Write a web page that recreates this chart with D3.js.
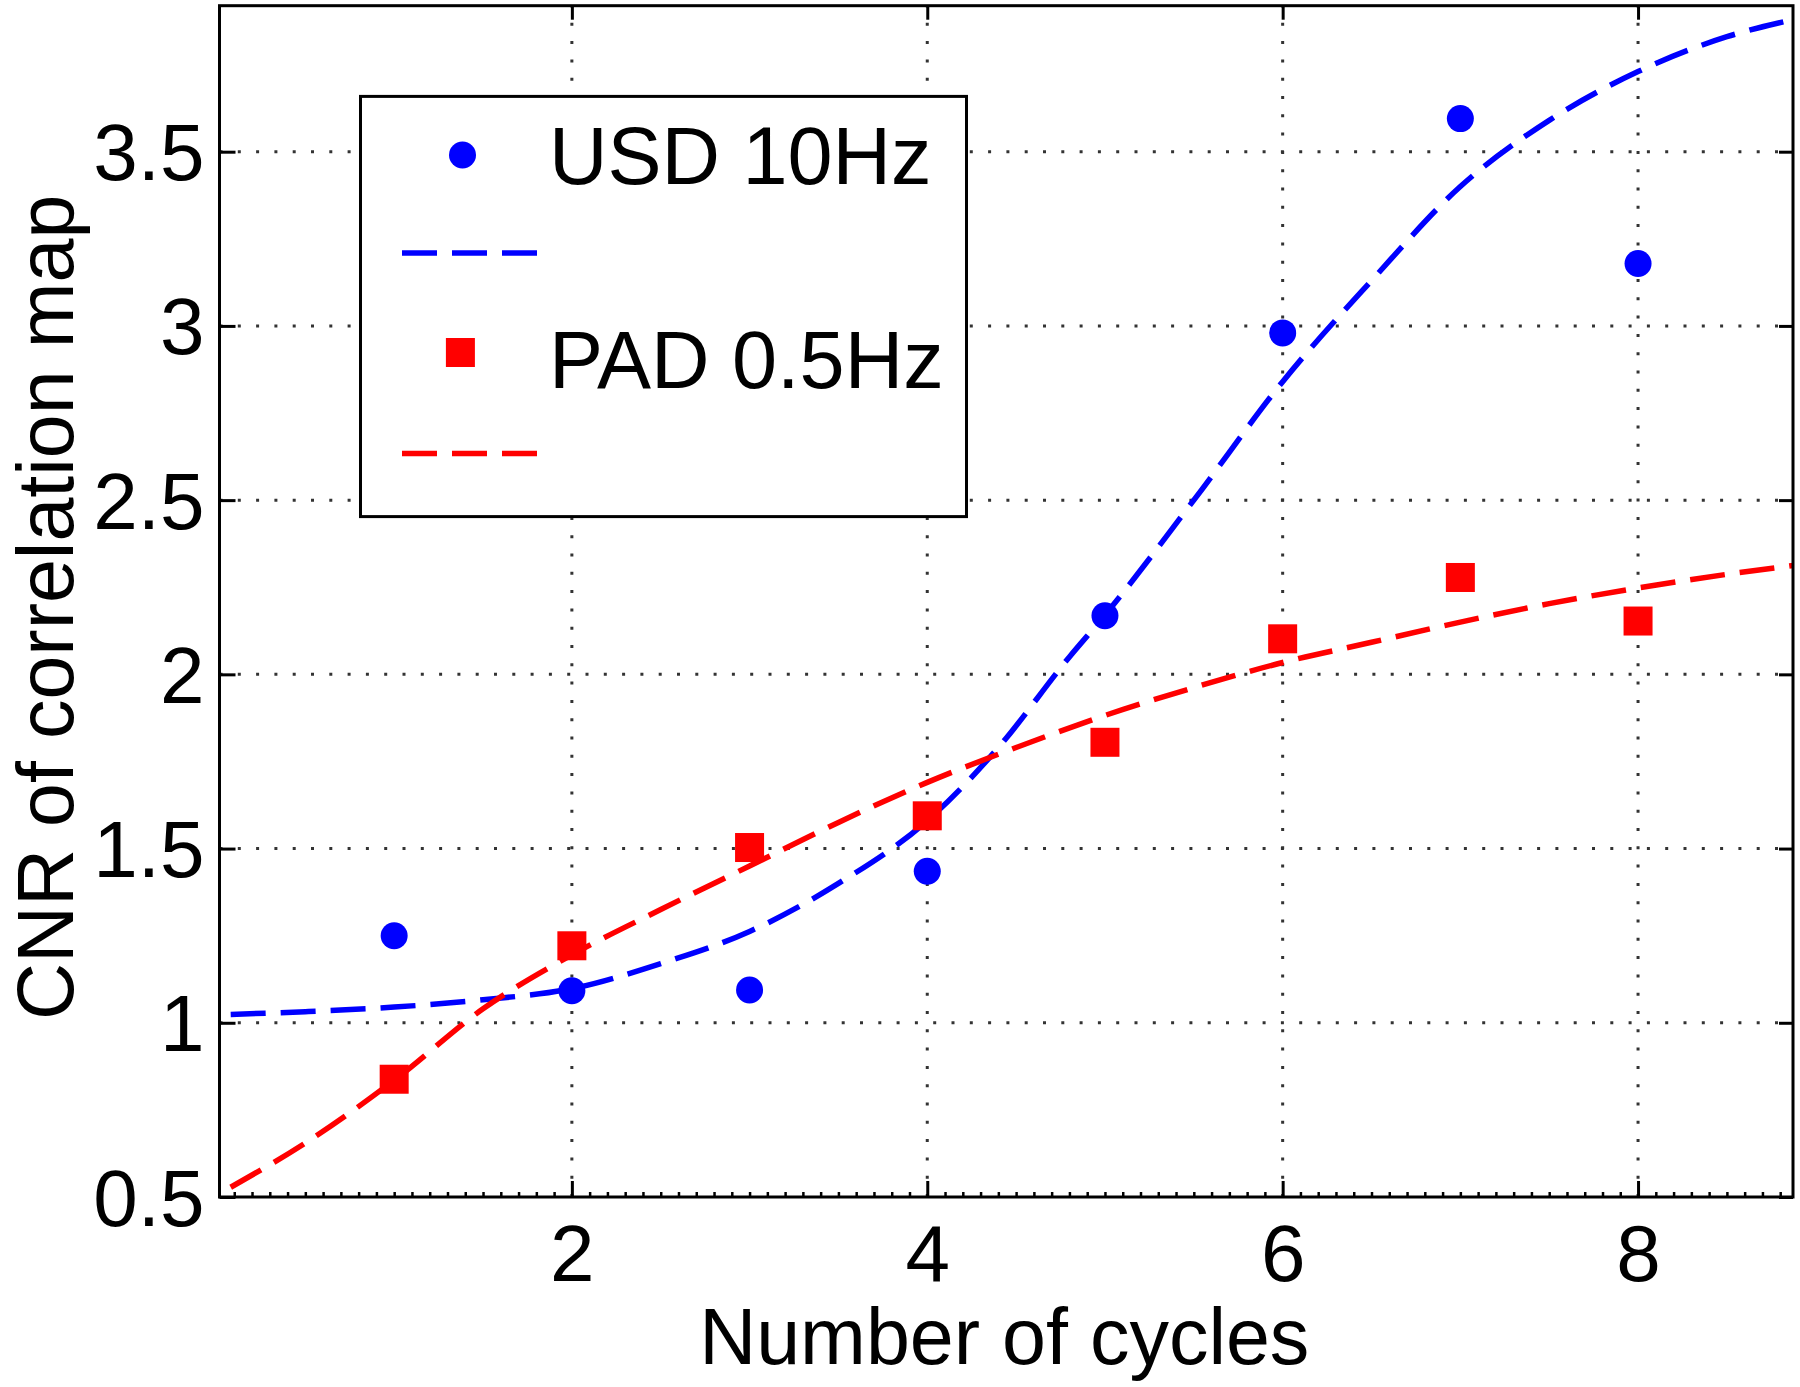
<!DOCTYPE html>
<html>
<head>
<meta charset="utf-8">
<script src="https://cdn.jsdelivr.net/npm/d3@7"></script>
<style>
  html, body { margin: 0; padding: 0; background: #fff; }
  svg { display: block; }
  text { font-family: "Liberation Sans", Arial, Helvetica, sans-serif; fill: #000; }
</style>
</head>
<body>
<svg id="chart" width="1800" height="1387"></svg>
<script>
// ---- data ----
const cycles = [1, 2, 3, 4, 5, 6, 7, 8];
const usdValues = [1.25, 1.092, 1.094, 1.435, 2.168, 2.98, 3.595, 3.179];
const padValues = [0.838, 1.221, 1.503, 1.594, 1.805, 2.102, 2.278, 2.153];

// fitted (dashed) curves
const usdFitX = [0.08, 0.5, 1.0, 1.5, 2.0, 2.5, 3.0, 3.5, 4.0, 4.4, 4.8, 5.0, 5.5, 6.0, 6.5, 7.0, 7.5, 8.0, 8.5, 8.88];
const usdFitY = [1.024, 1.032, 1.045, 1.066, 1.098, 1.17, 1.262, 1.40, 1.58, 1.79, 2.05, 2.17, 2.50, 2.84, 3.13, 3.40, 3.59, 3.73, 3.83, 3.88];
const padFitX = [0.08, 0.5, 1.0, 1.5, 2.0, 2.5, 3.0, 3.5, 4.0, 4.5, 5.0, 5.5, 6.0, 6.5, 7.0, 7.5, 8.0, 8.5, 8.88];
const padFitY = [0.528, 0.655, 0.835, 1.04, 1.195, 1.325, 1.45, 1.575, 1.69, 1.79, 1.882, 1.962, 2.034, 2.092, 2.15, 2.203, 2.248, 2.287, 2.313];

const xTicks = [2, 4, 6, 8];
const yTicks = [0.5, 1, 1.5, 2, 2.5, 3, 3.5];
const xLabel = "Number of cycles";
const yLabel = "CNR of correlation map";
const seriesNames = ["USD 10Hz", "PAD 0.5Hz"];

// ---- layout ----
const L = 219.5, R = 1793, T = 5.7, B = 1197;
const TICK_FONT = 80, LABEL_FONT = 79, LEGEND_FONT = 81;
const BLUE = "#0000ff", RED = "#ff0000";

const svg = d3.select("#chart");
svg.append("rect").attr("width", 1800).attr("height", 1387).attr("fill", "#fff");

const x = d3.scaleLinear().domain([0.017, 8.872]).range([L, R]);
const y = d3.scaleLinear().domain([0.5, 3.919]).range([B, T]);

// clip
svg.append("clipPath").attr("id", "plotclip")
  .append("rect").attr("x", L).attr("y", T).attr("width", R - L).attr("height", B - T);

// grid (dotted)
const grid = svg.append("g");
grid.selectAll("line.gx").data(xTicks).join("line")
  .attr("x1", d => x(d)).attr("x2", d => x(d))
  .attr("y1", B).attr("y2", T)
  .attr("stroke", "#333").attr("stroke-width", 3)
  .attr("stroke-dasharray", "3,15.3");
grid.selectAll("line.gy").data(yTicks.filter(d => d > 0.5)).join("line")
  .attr("x1", L).attr("x2", R)
  .attr("y1", d => y(d)).attr("y2", d => y(d))
  .attr("stroke", "#333").attr("stroke-width", 3)
  .attr("stroke-dasharray", "3,15.3");

// fitted curves
const line = d3.line().x(d => x(d[0])).y(d => y(d[1])).curve(d3.curveMonotoneX);
const plot = svg.append("g").attr("clip-path", "url(#plotclip)");
plot.append("path")
  .datum(usdFitX.map((v, i) => [v, usdFitY[i]]))
  .attr("d", line).attr("fill", "none")
  .attr("stroke", BLUE).attr("stroke-width", 5.5)
  .attr("stroke-dasharray", "35,15");
plot.append("path")
  .datum(padFitX.map((v, i) => [v, padFitY[i]]))
  .attr("d", line).attr("fill", "none")
  .attr("stroke", RED).attr("stroke-width", 5.5)
  .attr("stroke-dasharray", "35,15");

// markers
const SQ = 29;
plot.selectAll("rect.pad").data(cycles).join("rect")
  .attr("x", d => x(d) - SQ / 2)
  .attr("y", (d, i) => y(padValues[i]) - SQ / 2)
  .attr("width", SQ).attr("height", SQ)
  .attr("fill", RED);
plot.selectAll("circle.usd").data(cycles).join("circle")
  .attr("cx", d => x(d))
  .attr("cy", (d, i) => y(usdValues[i]))
  .attr("r", 13.5)
  .attr("fill", BLUE);

// axes (inward ticks)
function styleAxis(g) {
  g.select(".domain").remove();
  g.selectAll(".tick line").attr("stroke", "#000").attr("stroke-width", 3);
  g.selectAll(".tick text").style("font-size", TICK_FONT + "px")
    .style("font-family", '"Liberation Sans", Arial, Helvetica, sans-serif').attr("fill", "#000");
}
svg.append("g").attr("transform", `translate(0,${B})`)
  .call(d3.axisBottom(x).tickValues(xTicks).tickSize(-16).tickPadding(27).tickFormat(d3.format("d")))
  .call(styleAxis);
svg.append("g").attr("transform", `translate(${L},0)`)
  .call(d3.axisLeft(y).tickValues(yTicks).tickSize(-16).tickPadding(15).tickFormat(d => String(d)))
  .call(styleAxis)
  .call(g => g.selectAll(".tick text").attr("dy", "0.35em"));
svg.append("g").attr("transform", `translate(0,${T})`)
  .call(d3.axisTop(x).tickValues(xTicks).tickSize(-14).tickFormat(""))
  .call(styleAxis);
svg.append("g").attr("transform", `translate(${R},0)`)
  .call(d3.axisRight(y).tickValues(yTicks).tickSize(-14).tickFormat(""))
  .call(styleAxis);

// minor ticks on bottom axis
const minor = d3.range(1, 89).map(k => k / 10).filter(v => Math.abs(v - Math.round(v / 2) * 2) > 1e-6 || v < 1);
svg.append("g").attr("transform", `translate(0,${B})`)
  .call(d3.axisBottom(x).tickValues(minor).tickSize(-5).tickFormat(""))
  .call(styleAxis)
  .call(g => g.selectAll(".tick line").attr("stroke-width", 2.5));

// frame
svg.append("rect")
  .attr("x", L).attr("y", T).attr("width", R - L).attr("height", B - T)
  .attr("fill", "none").attr("stroke", "#000").attr("stroke-width", 3);

// axis labels
svg.append("text")
  .attr("x", (L + R) / 2 - 2).attr("y", 1364)
  .attr("text-anchor", "middle").style("font-size", LABEL_FONT + "px")
  .text(xLabel);
svg.append("text")
  .attr("transform", `translate(73,${(T + B) / 2 + 6}) rotate(-90)`)
  .attr("text-anchor", "middle").style("font-size", LABEL_FONT + "px")
  .text(yLabel);

// legend
const lg = svg.append("g");
lg.append("rect")
  .attr("x", 360.5).attr("y", 96.4).attr("width", 606).attr("height", 420.2)
  .attr("fill", "#fff").attr("stroke", "#000").attr("stroke-width", 3);
lg.append("circle").attr("cx", 462.5).attr("cy", 155).attr("r", 13.5).attr("fill", BLUE);
lg.append("text").attr("x", 549).attr("y", 184).style("font-size", LEGEND_FONT + "px").text(seriesNames[0]);
lg.append("line").attr("x1", 402).attr("x2", 538).attr("y1", 253).attr("y2", 253)
  .attr("stroke", BLUE).attr("stroke-width", 5.5).attr("stroke-dasharray", "35,15");
lg.append("rect").attr("x", 460.4 - SQ / 2).attr("y", 352.5 - SQ / 2).attr("width", SQ).attr("height", SQ).attr("fill", RED);
lg.append("text").attr("x", 549).attr("y", 388).style("font-size", LEGEND_FONT + "px").text(seriesNames[1]);
lg.append("line").attr("x1", 402).attr("x2", 538).attr("y1", 453.5).attr("y2", 453.5)
  .attr("stroke", RED).attr("stroke-width", 5.5).attr("stroke-dasharray", "35,15");
</script>
</body>
</html>
